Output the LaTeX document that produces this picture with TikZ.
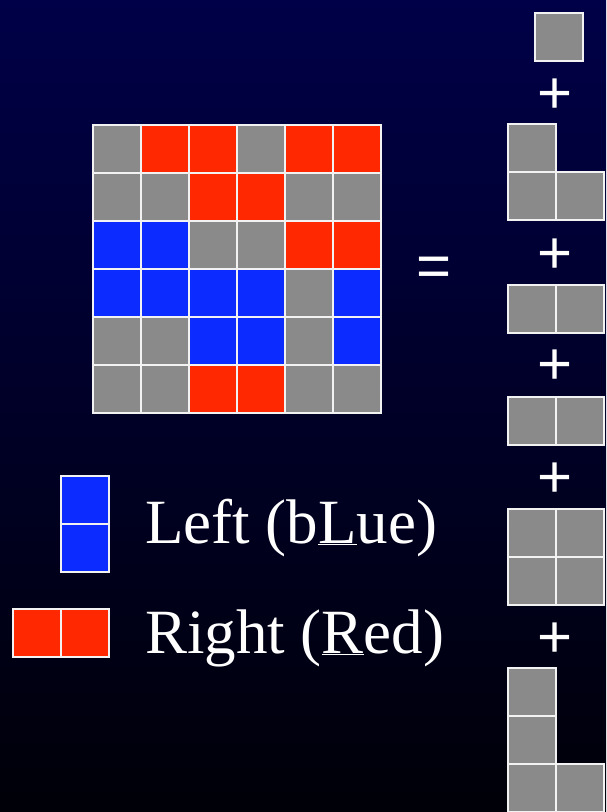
\documentclass[tikz,border=0pt]{standalone}
\usepackage{fontspec}
\setmainfont{Liberation Serif}
\newfontfamily\opfont{Liberation Sans}
\usepackage{tikz}
\usetikzlibrary{positioning}
\definecolor{tileG}  {RGB}{138, 138, 138}
\definecolor{tileR}  {RGB}{255, 40,  0}
\definecolor{tileB}  {RGB}{12,  44,  255}
\definecolor{bgTop}  {RGB}{0,   0,   72}
\definecolor{bgBot}  {RGB}{0,   0,   8}
\tikzset{
  tile/.style={draw=white!90!gray,line width=1.6pt},
  bigtext/.style={text=white,inner sep=0pt,font=\fontsize{63}{70}\selectfont},
  optext/.style={text=white,inner sep=0pt,font=\opfont\fontsize{60}{70}\selectfont}
}

\begin{document}
\begin{tikzpicture}[x=1pt,y=-1pt]

    % ─── Fundo ────────────────────────────────────────────
    \shade[top color=bgTop,bottom color=bgBot] (0,0) rectangle (606,812);
    \useasboundingbox (0,0) rectangle (606,812);

    % ─── Tabuleiro 6x6 ────────────────────────────────────
    \foreach \row [count=\r from 0] in {{G,R,R,G,R,R},{G,G,R,R,G,G},{B,B,G,G,R,R},
                                        {B,B,B,B,G,B},{G,G,B,B,G,B},{G,G,R,R,G,G}}{
      \foreach \c [count=\k from 0] in \row {
        \draw[tile,fill=tile\c] (93+48*\k,125+48*\r) rectangle ++(48,48);
      }
    }

    \node[optext] (eq) at (434,272){=};

    % ─── Pecas da soma ────────────────────────────────────
    \draw[tile,fill=tileG] (535,13) rectangle ++(48,48);
    \node[optext] (plusA) at (555,96){+};
    % L
    \foreach \x/\y in {508/124, 508/172, 556/172}{
      \draw[tile,fill=tileG] (\x,\y) rectangle ++(48,48);
    }
    \node[optext] (plusB) at (555,256){+};
    % dominos
    \foreach \x/\y in {508/285, 556/285}{
      \draw[tile,fill=tileG] (\x,\y) rectangle ++(48,48);
    }
    \node[optext] (plusC) at (555,367){+};
    \foreach \x/\y in {508/397, 556/397}{
      \draw[tile,fill=tileG] (\x,\y) rectangle ++(48,48);
    }
    \node[optext] (plusD) at (555,480){+};
    % quadrado 2x2
    \foreach \x/\y in {508/509, 556/509, 508/557, 556/557}{
      \draw[tile,fill=tileG] (\x,\y) rectangle ++(48,48);
    }
    \node[optext] (plusE) at (555,640){+};
    % L comprido
    \foreach \x/\y in {508/668, 508/716, 508/764, 556/764}{
      \draw[tile,fill=tileG] (\x,\y) rectangle ++(48,48);
    }

    % ─── Legenda ──────────────────────────────────────────
    \foreach \y in {476, 524}{
      \draw[tile,fill=tileB] (61,\y) rectangle ++(48,48);
    }
    \node[bigtext,anchor=base west] (leftLbl) at (145,543){Left (b\underline{L}ue)};
    \foreach \x in {13, 61}{
      \draw[tile,fill=tileR] (\x,609) rectangle ++(48,48);
    }
    \node[bigtext,anchor=base west] (rightLbl) at (145,653){Right (\underline{R}ed)};

  \end{tikzpicture}
\end{document}
